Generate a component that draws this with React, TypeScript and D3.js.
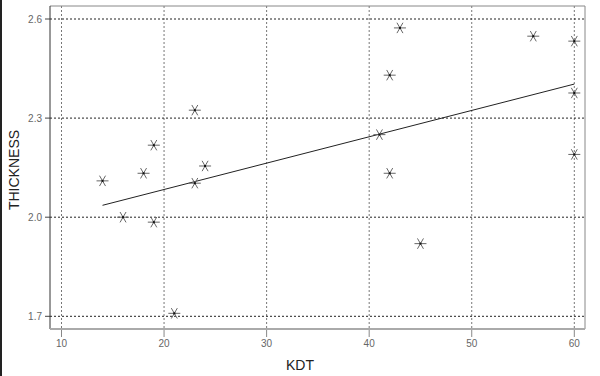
import React from "react";
import * as d3 from "d3";

const kdt = [14, 16, 19, 18, 19, 23, 23, 24, 21, 41, 42, 42, 43, 45, 56, 60, 60, 60];
const thickness = [2.11, 2.0, 1.985, 2.133, 2.218, 2.324, 2.103, 2.155, 1.709, 2.25, 2.43, 2.133, 2.573, 1.92, 2.548, 2.533, 2.376, 2.19];
const fitX = [14, 60];
const fitY = [2.036, 2.403];
const xTicks = [10, 20, 30, 40, 50, 60];
const yTicks = [1.7, 2.0, 2.3, 2.6];
const xTitle = "KDT";
const yTitle = "THICKNESS";

export default function App() {
  const W = 600, H = 376;
  const L = 50, T = 6, R = 585, B = 329;
  const x = d3.scaleLinear().domain([10, 60]).range([61.5, 574.3]);
  const y = d3.scaleLinear().domain([1.7, 2.6]).range([316.3, 19]);
  const line = d3.line<number>().x((_, i) => x(fitX[i])).y((d) => y(d));
  const star = (cx: number, cy: number, k: number) => {
    const r = 6;
    const a = Math.PI / 3;
    const segs = [0, a, 2 * a].map((ang) => {
      const dx = Math.cos(ang) * r, dy = Math.sin(ang) * r;
      return `M${cx - dx},${cy - dy}L${cx + dx},${cy + dy}`;
    });
    return (
      <g key={k}>
        <path d={segs.join("")} stroke="#666" strokeWidth={1} fill="none" />
        <rect x={cx - 1} y={cy - 1} width={2} height={2} fill="#111" />
      </g>
    );
  };
  return (
    <svg width={W} height={H} style={{ position: "absolute", left: 0, top: 0, background: "#fff" }} fontFamily="Liberation Sans, Arial, sans-serif">
      <rect x={0} y={0} width={2} height={H} fill="#222" />
      {xTicks.map((t) => (
        <g key={"x" + t}>
          <line x1={x(t)} x2={x(t)} y1={T} y2={B} stroke="#777" strokeDasharray="2,2" />
          <line x1={x(t)} x2={x(t)} y1={B} y2={B + 8} stroke="#888" />
          <text x={x(t)} y={B + 18} textAnchor="middle" fontSize={10} fill="#666">{t}</text>
        </g>
      ))}
      {yTicks.map((t) => (
        <g key={"y" + t}>
          <line x1={L} x2={R} y1={y(t)} y2={y(t)} stroke="#222" strokeDasharray="2,2" />
          <line x1={L - 5} x2={L} y1={y(t)} y2={y(t)} stroke="#444" />
          <text x={L - 8} y={y(t) + 3.5} textAnchor="end" fontSize={10} fill="#666">{t.toFixed(1)}</text>
        </g>
      ))}
      <line x1={L} x2={R} y1={T} y2={T} stroke="#888" />
      <line x1={R} x2={R} y1={T} y2={B} stroke="#888" />
      <line x1={L} x2={L} y1={T} y2={B} stroke="#333" />
      <line x1={L} x2={R} y1={B} y2={B} stroke="#aaa" strokeWidth={2} />
      <path d={line(fitY) || ""} stroke="#222" fill="none" strokeWidth={1} />
      {kdt.map((k, i) => star(x(k), y(thickness[i]), i))}
      <text x={300} y={370} textAnchor="middle" fontSize={14} fill="#222">{xTitle}</text>
      <text transform="translate(19,170) rotate(-90)" textAnchor="middle" fontSize={14} fill="#222">{yTitle}</text>
    </svg>
  );
}
